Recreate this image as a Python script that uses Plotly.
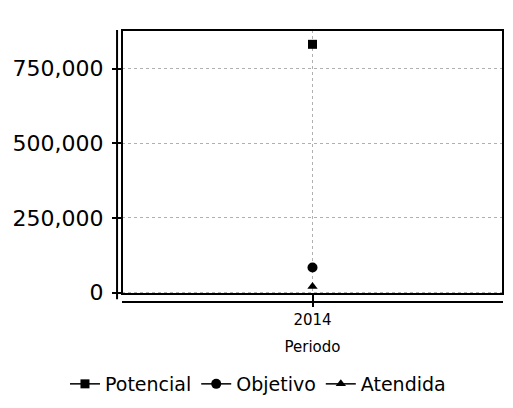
import plotly.graph_objects as go

periods = ["2014"]
potencial = [832000]
objetivo = [84000]
atendida = [20000]
y_ticks = [0, 250000, 500000, 750000]
y_tick_labels = ["0", "250,000", "500,000", "750,000"]

fig = go.Figure()
fig.add_trace(go.Scatter(x=periods, y=potencial, name="Potencial", mode="lines+markers",
                         marker=dict(symbol="square", size=9, color="black"),
                         line=dict(color="black", width=1.5)))
fig.add_trace(go.Scatter(x=periods, y=objetivo, name="Objetivo", mode="lines+markers",
                         marker=dict(symbol="circle", size=10, color="black"),
                         line=dict(color="black", width=1.5)))
fig.add_trace(go.Scatter(x=periods, y=atendida, name="Atendida", mode="lines+markers",
                         marker=dict(symbol="triangle-up", size=9, color="black"),
                         line=dict(color="black", width=1.5)))

fig.update_layout(
    width=505, height=400,
    margin=dict(l=114, r=10, t=22, b=114, autoexpand=False),
    paper_bgcolor="white", plot_bgcolor="white",
    font=dict(family="DejaVu Sans", color="black"),
    showlegend=True,
    legend=dict(orientation="h", xref="container", yref="container", x=0.495, y=0.06,
                xanchor="center", yanchor="middle", font=dict(size=19),
                itemwidth=30, tracegroupgap=0),
    xaxis=dict(type="category", range=[-0.5, 0.5], showgrid=True, gridcolor="#b0b0b0",
               griddash="dot", gridwidth=1, ticks="outside", ticklen=12, tickcolor="black",
               tickwidth=1.5, tickfont=dict(size=15), showline=False, zeroline=False,
               automargin=False,
               title=dict(text="Periodo", font=dict(size=15), standoff=13)),
    yaxis=dict(range=[-5000, 880000], tickvals=y_ticks, ticktext=y_tick_labels,
               showgrid=True, gridcolor="#b0b0b0", griddash="dot", gridwidth=1,
               ticks="outside", ticklen=9, tickcolor="black", tickwidth=1.5,
               tickfont=dict(size=22), showline=False, zeroline=False,
               automargin=False, ticklabelstandoff=4),
    shapes=[
        dict(type="rect", xref="paper", yref="paper", x0=0, x1=1, y0=0, y1=1,
             line=dict(color="black", width=2)),
        dict(type="line", xref="paper", yref="paper", x0=-0.013, x1=-0.013, y0=-0.02, y1=1,
             line=dict(color="black", width=2)),
        dict(type="line", xref="paper", yref="paper", x0=0, x1=1, y0=-0.03, y1=-0.03,
             line=dict(color="black", width=2)),
    ],
)

fig.write_html("out.html")
